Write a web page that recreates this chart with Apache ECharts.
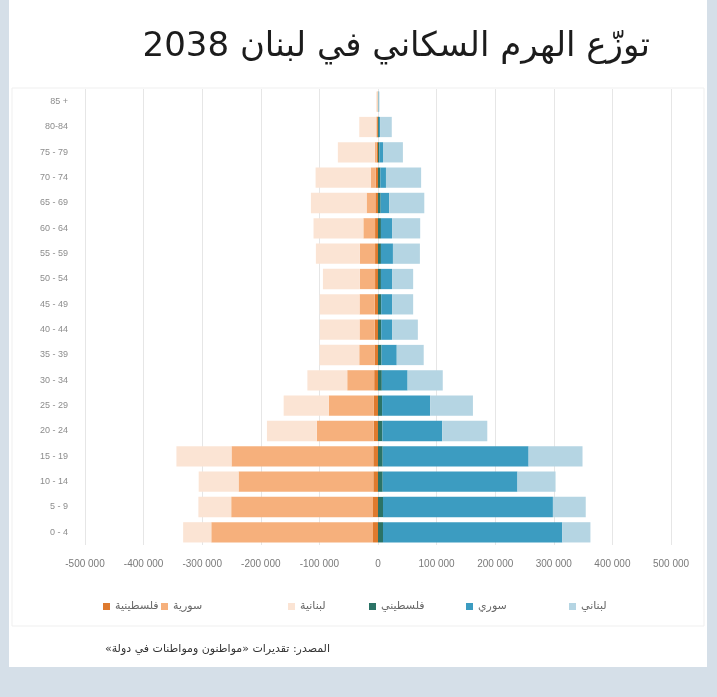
<!DOCTYPE html>
<html>
<head>
<meta charset="utf-8">
<script src="https://cdn.jsdelivr.net/npm/echarts@6/dist/echarts.min.js"></script>
<style>
  html, body { margin: 0; padding: 0; background: #d5dfe8; }
  #chart { width: 717px; height: 697px; }
</style>
</head>
<body>
<div id="chart"></div>
<script>
// age groups, bottom to top
const ages = ['0 - 4', '5 - 9', '10 - 14', '15 - 19', '20 - 24', '25 - 29', '30 - 34', '35 - 39', '40 - 44',
  '45 - 49', '50 - 54', '55 - 59', '60 - 64', '65 - 69', '70 - 74', '75 - 79', '80-84', '85 +'];

// males (right side)
const lebM = [48000, 56000, 65000, 92000, 77000, 73000, 60000, 46000, 44000, 36000, 36000, 46000, 48000, 60000, 60000, 34000, 20000, 1500];
const syrM = [306000, 290000, 230000, 249000, 102000, 82000, 44000, 26000, 18500, 18500, 19000, 20500, 19000, 14500, 9600, 6000, 2000, 500];
const palM = [8500, 8500, 8000, 8000, 7500, 7000, 6500, 6000, 5500, 5500, 5000, 5000, 5000, 4500, 4000, 2500, 1500, 500];

// females (left side)
const lebF = [48000, 56000, 68000, 94000, 85000, 77000, 68000, 68000, 68000, 68000, 63000, 75000, 85000, 95000, 94000, 63000, 29000, 2000];
const syrF = [276000, 242000, 230000, 242000, 97000, 77000, 46000, 26000, 26000, 26000, 26000, 26000, 20000, 15000, 8500, 3000, 1500, 500];
const palF = [8500, 8500, 8000, 8000, 7500, 7000, 6500, 6000, 5500, 5500, 5000, 5000, 5000, 4500, 4000, 2500, 1500, 500];

const legendOrder = ['فلسطينية', 'سورية', 'لبنانية', 'فلسطيني', 'سوري', 'لبناني'];
const legendLeft = [98, 156, 283, 364, 461, 564];

const colors = {
  'لبناني': '#b5d5e3',
  'سوري': '#3c9cc1',
  'فلسطيني': '#2b7366',
  'لبنانية': '#fbe4d4',
  'سورية': '#f6b07c',
  'فلسطينية': '#de7a2e'
};

const neg = (arr) => arr.map((v) => -v);

function fmt(v) {
  if (v === 0) return '0';
  const s = String(Math.abs(v)).replace(/\B(?=(\d{3})+(?!\d))/g, ' ');
  return (v < 0 ? '-' : '') + s;
}

function bar(name, data) {
  return {
    name,
    type: 'bar',
    stack: 'pyramid',
    barCategoryGap: '20%',
    itemStyle: { color: colors[name] },
    data
  };
}

const chart = echarts.init(document.getElementById('chart'));

chart.setOption({
  backgroundColor: '#d5dfe8',
  animation: false,
  title: {
    text: 'توزّع الهرم السكاني في لبنان 2038',
    right: 62,
    top: 25,
    textStyle: { fontFamily: 'DejaVu Sans', fontSize: 34, fontWeight: 'normal', color: '#1c1c1c' }
  },
  graphic: [
    { type: 'rect', z: -10, shape: { x: 9, y: 0, width: 698, height: 667 }, style: { fill: '#ffffff' } },
    { type: 'rect', z: -9, shape: { x: 12, y: 88, width: 692, height: 538 }, style: { fill: 'none', stroke: '#efefef', lineWidth: 1 } },
    {
      type: 'text', x: 330, y: 644,
      style: {
        text: '\u200Fالمصدر: تقديرات «مواطنون ومواطنات في دولة»\u200F',
        align: 'right',
        fill: '#333333',
        font: '11px "DejaVu Sans"'
      }
    }
  ],
  legend: legendOrder.map((name, i) => ({
    data: [name],
    left: legendLeft[i],
    top: 596,
    itemWidth: 7,
    itemHeight: 7,
    itemGap: 4,
    icon: 'rect',
    textStyle: { fontFamily: 'DejaVu Sans', fontSize: 11, color: '#666666' }
  })),
  grid: { left: 85, right: 46, top: 89, bottom: 152, containLabel: false },
  xAxis: {
    type: 'value',
    min: -500000,
    max: 500000,
    interval: 100000,
    axisLine: { show: false },
    axisTick: { show: false },
    splitLine: { lineStyle: { color: '#e6e6e6' } },
    axisLabel: { formatter: fmt, color: '#7a7a7a', fontSize: 10, fontFamily: 'Liberation Sans', margin: 14 }
  },
  yAxis: {
    type: 'category',
    data: ages,
    axisLine: { show: false },
    axisTick: { show: false },
    axisLabel: { color: '#8c8c8c', fontSize: 9, fontFamily: 'Liberation Sans', margin: 17 }
  },
  series: [
    bar('فلسطيني', palM),
    bar('سوري', syrM),
    bar('لبناني', lebM),
    bar('فلسطينية', neg(palF)),
    bar('سورية', neg(syrF)),
    bar('لبنانية', neg(lebF))
  ]
});
</script>
</body>
</html>
